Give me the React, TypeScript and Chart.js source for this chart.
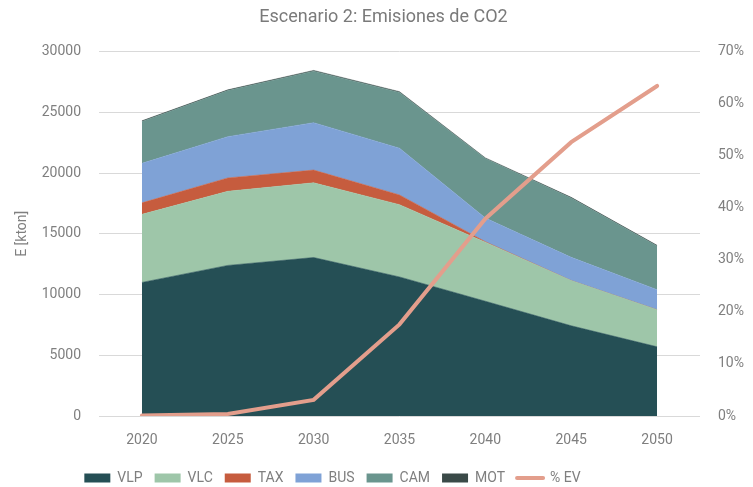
import React, { useEffect, useRef } from "react";
import { Chart, registerables } from "chart.js";

Chart.register(...registerables);

const years = ["2020", "2025", "2030", "2035", "2040", "2045", "2050"];
const vlp = [11000, 12400, 13050, 11450, 9450, 7430, 5700];
const vlc = [5600, 6100, 6150, 5950, 4850, 3720, 3050];
const tax = [950, 1100, 1050, 800, 50, 0, 0];
const bus = [3250, 3400, 3900, 3850, 1950, 1910, 1650];
const cam = [3440, 3790, 4240, 4590, 4890, 4880, 3590];
const mot = [60, 60, 60, 60, 60, 60, 60];
const ev = [0.1, 0.4, 3.1, 17.6, 37.9, 52.6, 63.4];

const leftTicks = [0, 5000, 10000, 15000, 20000, 25000, 30000];
const rightTicks = [0, 10, 20, 30, 40, 50, 60, 70];

const FONT = "Roboto";
const GREY = "#7f7f7f";

const legendShift = {
  id: "legendShift",
  afterLayout(chart: any) {
    const lg = chart.legend;
    if (lg) {
      lg.top += 8;
      lg.bottom += 8;
      lg.left -= 51;
      lg.right -= 51;
    }
  },
};

export default function App() {
  const ref = useRef<HTMLCanvasElement | null>(null);
  useEffect(() => {
    if (!ref.current) return;
    const area = (label: string, data: number[], color: string, fill: any) => ({
      type: "line" as const,
      label,
      data,
      backgroundColor: color,
      borderColor: color,
      borderWidth: 0.5,
      pointRadius: 0,
      fill,
      yAxisID: "y",
      stack: "em",
      pointStyle: "rect",
      tension: 0,
    });
    const chart = new Chart(ref.current, {
      type: "line",
      plugins: [legendShift],
      data: {
        labels: years,
        datasets: [
          area("VLP", vlp, "#254f55", "origin"),
          area("VLC", vlc, "#9ec6a9", "-1"),
          area("TAX", tax, "#c65c3e", "-1"),
          area("BUS", bus, "#7fa2d6", "-1"),
          area("CAM", cam, "#6a958e", "-1"),
          area("MOT", mot, "#3a4a48", "-1"),
          {
            type: "line",
            label: "% EV",
            data: ev,
            borderColor: "#e39e8c",
            backgroundColor: "#e39e8c",
            borderWidth: 4,
            pointRadius: 0,
            fill: false,
            yAxisID: "y2",
            stack: "ev",
            order: -1,
            pointStyle: "line",
            borderCapStyle: "round",
            tension: 0,
          } as any,
        ],
      },
      options: {
        animation: false,
        responsive: false,
        maintainAspectRatio: false,
        layout: { padding: { left: 14, right: 0, top: 0, bottom: 0 } },
        plugins: {
          tooltip: { enabled: false },
          title: {
            display: true,
            text: "Escenario 2: Emisiones de CO2",
            color: "#7a7a7a",
            font: { family: FONT, size: 18, weight: "normal" },
            padding: { top: 7, bottom: 23 },
          },
          legend: {
            position: "bottom",
            labels: {
              color: GREY,
              font: { family: FONT, size: 14 },
              usePointStyle: true,
              pointStyleWidth: 26,
              boxHeight: 9,
              padding: 12,
              sort: (a: any, b: any) => a.datasetIndex - b.datasetIndex,
              generateLabels: (c: any) => {
                const items = Chart.defaults.plugins.legend.labels.generateLabels(c);
                items.forEach((it: any) => {
                  const ds = c.data.datasets[it.datasetIndex];
                  if (ds.label === "% EV") {
                    it.pointStyle = "line";
                    it.strokeStyle = "#e39e8c";
                    it.lineWidth = 4;
                    it.lineCap = "round";
                  } else {
                    it.pointStyle = "rect";
                    it.lineWidth = 0;
                    it.fillStyle = ds.backgroundColor;
                    it.strokeStyle = ds.backgroundColor;
                  }
                });
                return items;
              },
            },
          },
        },
        scales: {
          x: {
            offset: true,
            grid: { display: false },
            border: { display: false },
            afterFit: (s: any) => {
              s.height = 35;
            },
            ticks: { color: GREY, font: { family: FONT, size: 14 }, padding: 8 },
          },
          y: {
            stacked: true,
            min: 0,
            max: 30000,
            afterBuildTicks: (s: any) => {
              s.ticks = leftTicks.map((v) => ({ value: v }));
            },
            afterFit: (s: any) => {
              s.width = 85;
            },
            grid: { color: "#d9d9d9", drawTicks: false },
            border: { display: false },
            ticks: {
              color: GREY,
              font: { family: FONT, size: 14 },
              padding: 18,
              callback: (v: any) => String(v),
            },
            title: {
              display: true,
              text: "E [kton]",
              color: GREY,
              font: { family: FONT, size: 14 },
              padding: 0,
            },
          },
          y2: {
            position: "right",
            stacked: false,
            min: 0,
            max: 70,
            afterBuildTicks: (s: any) => {
              s.ticks = rightTicks.map((v) => ({ value: v }));
            },
            afterFit: (s: any) => {
              s.width = 53;
            },
            grid: { display: false, drawTicks: false },
            border: { display: false },
            ticks: {
              color: GREY,
              font: { family: FONT, size: 14 },
              padding: 18,
              callback: (v: any) => v + "%",
            },
          },
        },
      } as any,
    });
    return () => chart.destroy();
  }, []);
  return (
    <div style={{ position: "absolute", left: 0, top: 0, width: 753, height: 487, background: "#fff" }}>
      <canvas ref={ref} width={753} height={487} style={{ display: "block" }} />
    </div>
  );
}
